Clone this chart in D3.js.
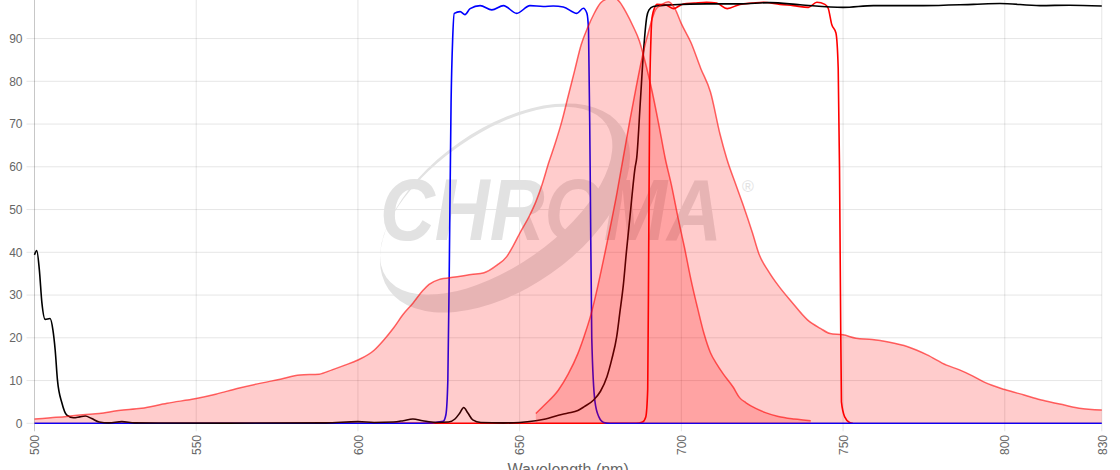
<!DOCTYPE html>
<html>
<head>
<meta charset="utf-8">
<script src="https://cdn.jsdelivr.net/npm/d3@7/dist/d3.min.js"></script>
<style>
    html, body { margin: 0; padding: 0; background: #fff; }
    svg { display: block; font-family: "Liberation Sans", Arial, Helvetica, sans-serif; }
</style>
</head>
<body>
<div id="chart"></div>
<script>
// Spectra, [wavelength nm, % value]
const excitation = [
    [500, 1.0], [505, 1.3], [510, 1.6], [515, 2.0], [520, 2.3], [526, 3.0], [533, 3.5], [541, 4.7],
    [550, 5.8], [556, 6.8], [563, 8.2], [570, 9.4], [576, 10.3], [582, 11.3], [588, 11.5], [592, 12.5],
    [596, 13.6], [600, 14.8], [605, 17.1], [608, 19.5], [611, 22.3], [614, 25.5], [617, 28.1], [620, 31.0],
    [622, 32.5], [625, 33.6], [630, 34.2], [635, 34.8], [639, 35.2], [643, 37.0], [646, 39.0], [648, 41.5],
    [650, 44.4], [653, 48.5], [655, 51.8], [657, 56.0], [659, 61.0], [661, 65.5], [663, 70.5], [665, 76.5],
    [667, 82.5], [669, 88.5], [671, 92.5], [673, 95.8], [675, 98.3], [677, 99.3], [679, 99.6], [681, 98.5],
    [683, 96.0], [685, 93.0], [687, 89.5], [689, 84.0], [691, 77.5], [693, 70.0], [695, 62.0], [697, 55.5],
    [699, 48.0], [701, 41.0], [703, 33.5], [705, 27.0], [707, 21.0], [709, 16.5], [711, 13.8], [713, 11.5],
    [716, 8.5], [718, 6.0], [720, 4.8], [723, 3.5], [726, 2.5], [730, 1.6], [735, 1.0], [740, 0.6]
];

const emission = [
    [655, 2.3], [658, 4.5], [662, 7.8], [665, 11.5], [668, 16.3], [670, 20.5], [672, 25.3], [674, 31.5],
    [676, 38.5], [678, 45.8], [680, 53.5], [682, 62.0], [684, 70.5], [686, 78.5], [688, 86.0], [690, 92.0],
    [692, 96.7], [694, 98.0], [696, 98.6], [698, 97.0], [700, 93.5], [703, 89.0], [706, 83.0], [709, 77.5],
    [712, 67.5], [714, 62.0], [717, 55.5], [719, 51.3], [722, 44.5], [724, 39.6], [727, 35.5], [730, 32.2],
    [734, 28.5], [739, 24.2], [743, 22.2], [746, 21.0], [750, 20.7], [754, 19.9], [759, 19.6], [764, 19.0],
    [770, 17.9], [776, 16.0], [782, 13.6], [786, 12.5], [790, 11.1], [794, 9.5], [800, 7.9], [806, 6.6],
    [811, 5.5], [817, 4.5], [823, 3.5], [830, 3.1]
];

// Filters
const exciterFilter = [
    [500, 0], [620, 0], [626.4, 0.5], [627.2, 2], [627.8, 10], [628.3, 40], [628.8, 75], [629.3, 90],
    [629.8, 95.9], [631.6, 96.3], [633.1, 95.6], [634.7, 97.0], [637.8, 97.7], [641.4, 96.7], [645, 97.7],
    [649.1, 95.9], [653.2, 97.7], [657.3, 97.5], [660.4, 97.6], [663.5, 97.4], [667.7, 95.9], [669.7, 97.1],
    [670.8, 95.9], [671.3, 92], [671.8, 60], [672.3, 20], [673.3, 5], [674.5, 1.5], [676, 0.2], [678, 0],
    [830, 0]
];

const emitterFilter = [
    [610, 0], [686, 0], [688, 0.3], [689, 1.5], [689.6, 8], [689.9, 40], [690.2, 75], [690.6, 90],
    [690.9, 94.7], [691.9, 97.5], [692.4, 98.0], [695, 97.9], [697.5, 97.0], [700.6, 98.1], [704, 98.3],
    [707.8, 98.5], [710.9, 98.3], [714.2, 97.0], [718.1, 98.0], [722, 98.3], [725.3, 98.5], [730.5, 98.0],
    [734.6, 97.7], [739.3, 97.3], [741.9, 98.5], [744.4, 98.0], [745.4, 97.1], [746.5, 93.3], [747.8, 91.3],
    [748.5, 83], [748.9, 60], [749.2, 30], [749.5, 5], [750.5, 1.5], [752, 0.2], [753, 0]
];

const dichroic = [
    [500, 39.4], [500.7, 40.4], [501.5, 35.9], [502.3, 28.1], [503.3, 24.3], [504.8, 24.5], [505.7, 21.8],
    [506.4, 17.1], [507.1, 10.1], [508.5, 4.7], [510, 1.9], [512, 1.3], [514, 1.5], [515.7, 1.7],
    [517.7, 1.1], [520, 0.3], [523, 0.1], [527, 0.4], [531, 0.1], [560, 0.05], [590, 0.1], [600, 0.4],
    [605, 0.2], [611, 0.3], [614, 0.6], [617, 1.0], [620, 0.6], [624, 0.2], [628, 0.3], [630, 1.0],
    [631.5, 2.4], [632.7, 3.7], [634, 2.4], [635.5, 0.8], [638, 0.2], [645, 0.1], [650, 0.2], [655, 0.6],
    [658, 1.0], [662, 1.9], [665, 2.4], [668, 3.0], [670, 3.9], [672.8, 5.4], [675, 7.5], [677, 10.9],
    [678.5, 15], [680, 20.2], [681, 26], [682.1, 32.6], [683, 40], [684.1, 48.2], [685.7, 59.8],
    [686.2, 62.1], [687.3, 75], [688.3, 87.0], [689.3, 95], [690, 96.7], [691.3, 97.5], [697.5, 97.9],
    [707.8, 98.1], [718, 98.1], [727.4, 98.4], [736.7, 97.9], [750, 97.3], [759.4, 97.7], [774.8, 97.7],
    [790.3, 98.0], [798.5, 98.2], [810.9, 97.7], [820, 97.8], [830, 97.6]
];

const xTicks = [500, 550, 600, 650, 700, 750, 800, 830];
const yTicks = [0, 10, 20, 30, 40, 50, 60, 70, 80, 90];

const width = 1120, height = 470;

const svg = d3.select("#chart").append("svg")
    .attr("width", width)
    .attr("height", height);

const x = d3.scaleLinear().domain([500, 830]).range([34.5, 1101.8]);
const y = d3.scaleLinear().domain([0, 100]).range([423.3, -4.2]);

// grid lines
const grid = svg.append("g").attr("class", "grid");
grid.selectAll("line.h").data(yTicks).enter().append("line")
    .attr("x1", x(500) - 8).attr("x2", x(830))
    .attr("y1", d => y(d)).attr("y2", d => y(d))
    .style("stroke", "rgba(0,0,0,0.1)").style("stroke-width", 1);
grid.selectAll("line.v").data(xTicks).enter().append("line")
    .attr("x1", d => x(d)).attr("x2", d => x(d))
    .attr("y1", y(100)).attr("y2", y(0) + 8)
    .style("stroke", d => d === 500 ? "rgba(0,0,0,0.22)" : "rgba(0,0,0,0.1)")
    .style("stroke-width", 1);

// watermark
const wm = svg.append("g").attr("class", "watermark");
wm.append("path")
    .attr("transform", "translate(505,208) rotate(-35)")
    .attr("fill-rule", "evenodd")
    .attr("d", () => {
        const ell = (cx, cy, rx, ry) => `M${cx - rx},${cy}a${rx},${ry} 0 1,0 ${2 * rx},0a${rx},${ry} 0 1,0 ${-2 * rx},0Z`;
        return ell(0, 0, 142, 80) + ell(-3, -11, 134, 66);
    })
    .style("fill", "#e2e2e2");
wm.append("text")
    .attr("transform", "translate(380,240) scale(1,1.15)")
    .style("font-size", "76px")
    .style("font-weight", "bold")
    .style("font-style", "italic")
    .style("fill", "#e2e2e2")
    .text("CHROMA");
wm.append("text")
    .attr("x", 748).attr("y", 192)
    .attr("text-anchor", "middle")
    .style("font-size", "16px")
    .style("fill", "#e2e2e2")
    .text("\u00AE");

// filter curves (drawn under the translucent spectra)
const line = d3.line()
    .x(d => x(d[0]))
    .y(d => y(d[1]))
    .curve(d3.curveMonotoneX);

const plot = svg.append("g");

plot.append("path").datum(emitterFilter)
    .attr("d", line)
    .style("fill", "none").style("stroke", "#ff0000").style("stroke-width", 1.6);
plot.append("path").datum(exciterFilter)
    .attr("d", line)
    .style("fill", "none").style("stroke", "#0000ff").style("stroke-width", 1.6);
plot.append("path").datum(dichroic)
    .attr("d", line)
    .style("fill", "none").style("stroke", "#000").style("stroke-width", 1.6);

// spectra areas
const area = d3.area()
    .x(d => x(d[0]))
    .y0(y(0))
    .y1(d => y(d[1]))
    .curve(d3.curveMonotoneX);

[excitation, emission].forEach(s => {
    plot.append("path").datum(s)
        .attr("d", area)
        .style("fill", "rgba(255,0,0,0.2)");
    plot.append("path").datum(s)
        .attr("d", line)
        .style("fill", "none")
        .style("stroke", "rgba(255,0,0,0.6)")
        .style("stroke-width", 1.5);
});

// axes
const yAxis = svg.append("g")
    .attr("transform", `translate(${x(500)},0)`)
    .call(d3.axisLeft(y).tickValues(yTicks).tickSize(0).tickPadding(12));
yAxis.select(".domain").remove();
yAxis.selectAll("text")
    .style("font-size", "12px")
    .style("fill", "#666")
    .style("font-family", "'Liberation Sans', Arial, sans-serif");

const xAxis = svg.append("g")
    .attr("transform", `translate(0,${y(0)})`)
    .call(d3.axisBottom(x).tickValues(xTicks).tickSize(0).tickFormat(d3.format("d")));
xAxis.select(".domain").remove();
xAxis.selectAll("text")
    .attr("transform", "rotate(-90)")
    .attr("text-anchor", "end")
    .attr("x", -11.7)
    .attr("y", 0)
    .attr("dy", "0.35em")
    .style("font-size", "12px")
    .style("fill", "#666")
    .style("font-family", "'Liberation Sans', Arial, sans-serif");

svg.append("text")
    .attr("x", (x(500) + x(830)) / 2)
    .attr("y", 475)
    .attr("text-anchor", "middle")
    .style("font-size", "16px")
    .style("fill", "#666")
    .text("Wavelength (nm)");
</script>
</body>
</html>
